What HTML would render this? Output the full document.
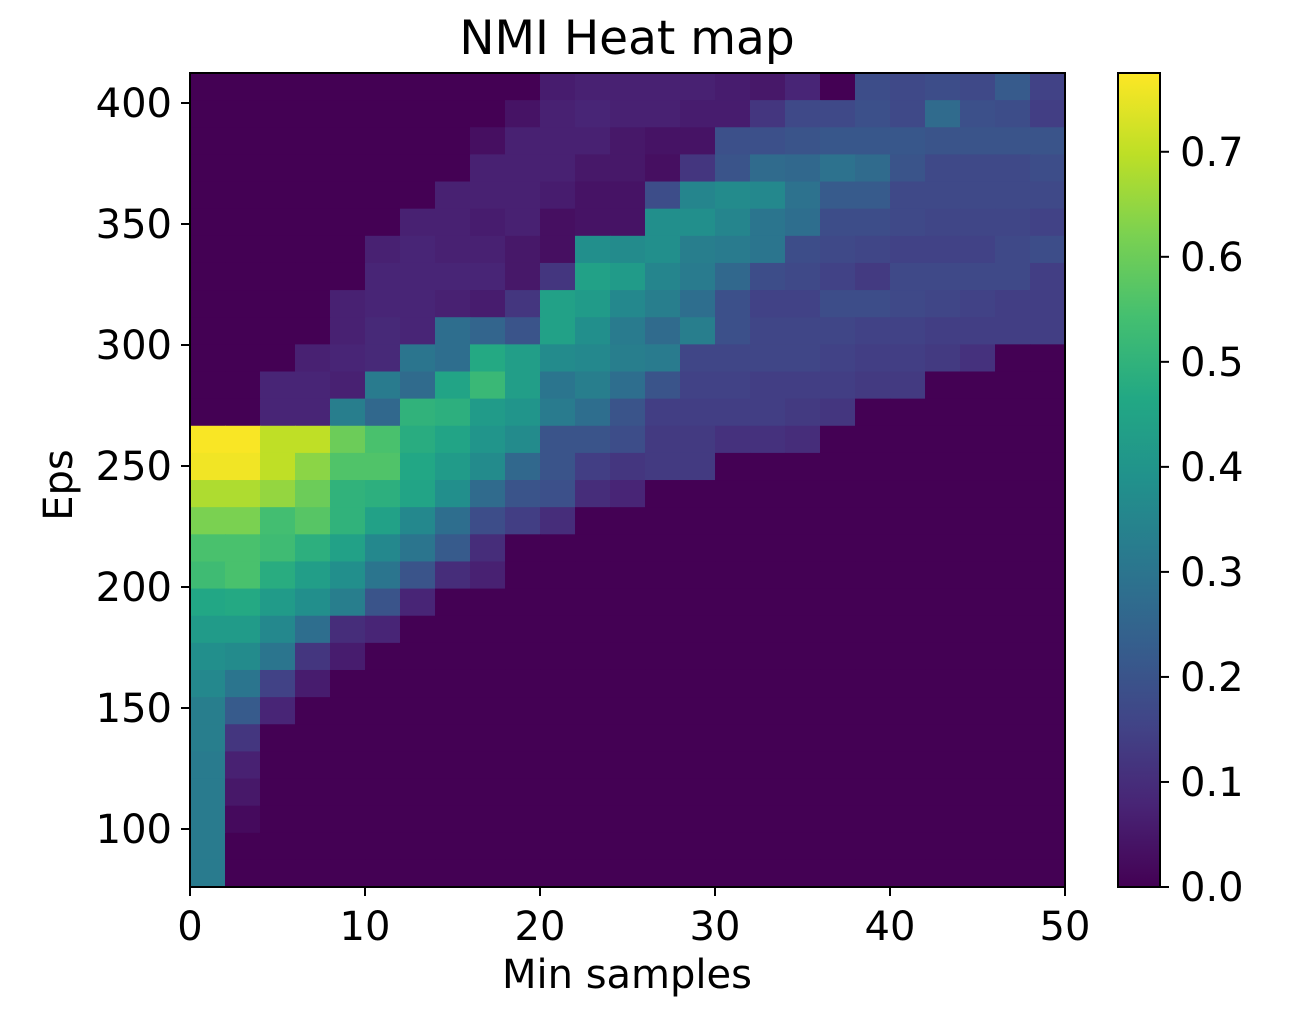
<!DOCTYPE html>
<html><head><meta charset="utf-8">
<style>
html,body{margin:0;padding:0;background:#fff;}
svg{display:block;font-family:"DejaVu Sans","Liberation Sans",sans-serif;}
</style></head>
<body>
<svg id="chart" width="1308" height="1032" viewBox="0 0 1308 1032">
<defs>
<linearGradient id="cbgrad" x1="0" y1="1" x2="0" y2="0">
<stop offset="0" stop-color="#440154"/><stop offset="0.1" stop-color="#482475"/>
<stop offset="0.2" stop-color="#414487"/><stop offset="0.3" stop-color="#355f8d"/>
<stop offset="0.4" stop-color="#2a788e"/><stop offset="0.5" stop-color="#21918c"/>
<stop offset="0.6" stop-color="#22a884"/><stop offset="0.7" stop-color="#44bf70"/>
<stop offset="0.8" stop-color="#7ad151"/><stop offset="0.9" stop-color="#bddf26"/>
<stop offset="1" stop-color="#fde725"/>
</linearGradient>
</defs>
<text x="627" y="54" text-anchor="middle" font-size="47" fill="#000">NMI Heat map</text>
<g id="cells"></g>
<rect x="190" y="73" width="875" height="814" fill="none" stroke="#000" stroke-width="2"/>
<g id="xticks"></g>
<g id="yticks"></g>
<text x="627" y="988" text-anchor="middle" font-size="40">Min samples</text>
<text transform="translate(72,485) rotate(-90)" text-anchor="middle" font-size="40">Eps</text>
<rect x="1118" y="73" width="42" height="814" fill="url(#cbgrad)" stroke="#000" stroke-width="2"/>
<g id="cbticks"></g>
</svg>
<script>
const xTicks=[0,10,20,30,40,50];
const yTicks=[100,150,200,250,300,350,400];
const cbTicks=[0.0,0.1,0.2,0.3,0.4,0.5,0.6,0.7];
const minSamplesStart=0, minSamplesStep=2;
const epsTop=412.4, epsBottom=76.0;
const row0=[0,0,0,0,0,0,0,0,0,0,.06,.07,.07,.07,.07,.06,.05,.08,0,.18,.17,.18,.17,.22,.15];
const row1=[0,0,0,0,0,0,0,0,0,.04,.07,.08,.07,.07,.06,.06,.12,.17,.17,.19,.17,.27,.19,.18,.14];
const row2=[0,0,0,0,0,0,0,0,.03,.07,.07,.07,.05,.04,.04,.19,.19,.2,.21,.21,.21,.2,.2,.2,.2];
const row3=[0,0,0,0,0,0,0,0,.07,.07,.07,.05,.05,.03,.12,.2,.27,.26,.29,.27,.2,.17,.17,.17,.18];
const row4=[0,0,0,0,0,0,0,.07,.07,.07,.06,.04,.04,.18,.35,.37,.36,.29,.22,.22,.17,.17,.17,.17,.17];
const row5=[0,0,0,0,0,0,.07,.07,.06,.07,.03,.04,.04,.38,.38,.35,.3,.28,.18,.18,.17,.16,.16,.16,.15];
const row6=[0,0,0,0,0,.07,.08,.07,.07,.05,.03,.38,.37,.38,.33,.32,.3,.18,.17,.16,.15,.15,.15,.17,.18];
const row7=[0,0,0,0,0,.08,.08,.08,.08,.05,.12,.44,.42,.35,.32,.26,.18,.17,.15,.13,.17,.17,.17,.17,.14];
const row8=[0,0,0,0,.07,.08,.08,.07,.06,.12,.44,.42,.36,.33,.28,.19,.15,.15,.18,.18,.17,.16,.15,.14,.14];
const row9=[0,0,0,0,.07,.09,.08,.28,.25,.2,.44,.38,.32,.27,.33,.19,.16,.16,.16,.15,.15,.14,.14,.14,.14];
const row10=[0,0,0,.07,.08,.09,.3,.28,.47,.43,.37,.36,.33,.32,.16,.16,.16,.16,.15,.14,.14,.13,.11,0,0];
const row11=[0,0,.08,.08,.07,.32,.27,.45,.52,.43,.3,.33,.28,.2,.15,.15,.14,.14,.14,.13,.13];
const row12=[0,0,.08,.08,.33,.26,.5,.49,.42,.4,.32,.28,.2,.14,.14,.14,.14,.13,.12];
const row13=[.77,.77,.7,.7,.6,.55,.48,.45,.4,.37,.2,.2,.18,.13,.13,.11,.11,.1];
const row14=[.76,.76,.7,.64,.56,.56,.46,.42,.37,.26,.2,.14,.12,.13,.13];
const row15=[.68,.68,.65,.6,.5,.49,.45,.38,.27,.2,.19,.1,.08];
const row16=[.62,.62,.54,.57,.5,.44,.36,.28,.18,.14,.1];
const row17=[.55,.55,.53,.49,.44,.36,.3,.22,.1];
const row18=[.53,.55,.48,.43,.38,.3,.2,.1,.07];
const row19=[.46,.47,.42,.38,.33,.2,.08];
const row20=[.42,.42,.36,.28,.1,.08];
const row21=[.38,.37,.3,.12,.06];
const row22=[.36,.3,.15,.06];
const row23=[.33,.22,.08];
const row24=[.33,.12];
const row25=[.32,.07];
const row26=[.32,.05];
const row27=[.32,.02];
const row28=[.32];
const row29=[.32];
const rows=[row0,row1,row2,row3,row4,row5,row6,row7,row8,row9,row10,row11,row12,row13,row14,row15,row16,row17,row18,row19,row20,row21,row22,row23,row24,row25,row26,row27,row28,row29];
const nCols=25, vmax=0.775;

const NS="http://www.w3.org/2000/svg";
const PX0=190,PX1=1065,PY0=73,PY1=887;
function xScale(v){return PX0+(v-0)/(50-0)*(PX1-PX0);}
function yScale(e){return 829-(e-100)*121/50;}
function cbScale(v){return PY1-(v/vmax)*(PY1-PY0);}
const vir=[[68,1,84],[72,36,117],[65,68,135],[53,95,141],[42,120,142],[33,145,140],[34,168,132],[68,191,112],[122,209,81],[189,223,38],[253,231,37]];
function viridis(t){t=Math.max(0,Math.min(1,t));const p=t*10,i=Math.min(9,Math.floor(p)),f=p-i;const a=vir[i],b=vir[i+1];return `rgb(${a.map((c,k)=>Math.round(c+(b[k]-c)*f)).join(',')})`;}
function mk(tag,attrs,parent){const e=document.createElementNS(NS,tag);for(const k in attrs)e.setAttribute(k,attrs[k]);parent.appendChild(e);return e;}

const cells=document.getElementById('cells');
const nRows=rows.length, epsStep=(epsTop-epsBottom)/nRows;
rows.forEach((r,ri)=>{
  const eHi=epsTop-ri*epsStep, eLo=eHi-epsStep;
  for(let c=0;c<nCols;c++){
    const v=r[c]||0;
    const x0=xScale(minSamplesStart+c*minSamplesStep), x1=xScale(minSamplesStart+(c+1)*minSamplesStep);
    const y0=yScale(eHi), y1=yScale(eLo);
    const rc=mk('rect',{x:x0,y:y0,width:x1-x0+0.6,height:y1-y0+0.6,fill:viridis(v/vmax)},cells);
    
    
  }
});
const xt=document.getElementById('xticks');
xTicks.forEach(t=>{
  const x=xScale(t);
  const l=mk('line',{x1:x,x2:x,y1:PY1,y2:PY1+9,stroke:'#000','stroke-width':2},xt);
  
  
  const tx=mk('text',{x:x,y:PY1+53,'text-anchor':'middle','font-size':40},xt);
  tx.textContent=t;
  
  
});
const yt=document.getElementById('yticks');
yTicks.forEach(t=>{
  const y=yScale(t);
  const l=mk('line',{x1:PX0-9,x2:PX0,y1:y,y2:y,stroke:'#000','stroke-width':2},yt);
  
  
  const tx=mk('text',{x:PX0-18,y:y+14,'text-anchor':'end','font-size':40},yt);
  tx.textContent=t;
  
  
});
const cb=document.getElementById('cbticks');
cbTicks.forEach(t=>{
  const y=cbScale(t);
  const l=mk('line',{x1:1160,x2:1169,y1:y,y2:y,stroke:'#000','stroke-width':2},cb);
  
  
  const tx=mk('text',{x:1180,y:y+14,'font-size':40},cb);
  tx.textContent=t.toFixed(1);
  
  
});
</script>
</body></html>
